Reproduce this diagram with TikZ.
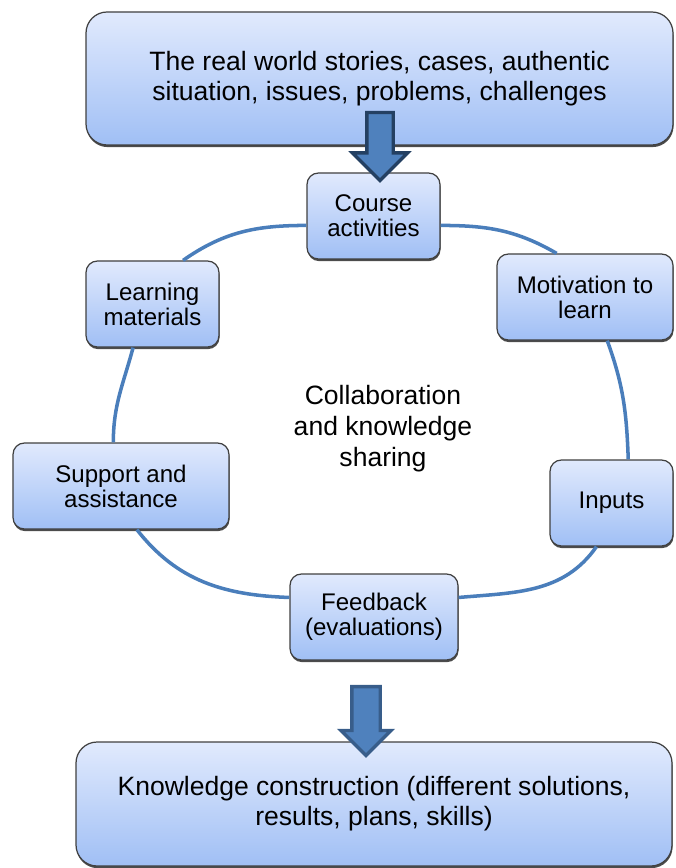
\documentclass[tikz,border=0pt]{standalone}
\usepackage{fontspec}
\setmainfont{Liberation Sans}
\usetikzlibrary{shapes.arrows,shadows}
\definecolor{boxtop}{RGB}{225,234,253}
\definecolor{boxbot}{RGB}{160,191,245}
\definecolor{ringblue}{RGB}{74,126,187}
\definecolor{arrfill}{RGB}{79,129,189}
\definecolor{arrline}{RGB}{36,64,98}
\definecolor{arrlineb}{RGB}{56,93,138}

\begin{document}
\begin{tikzpicture}[box/.style={draw=black!75, line width=0.7pt, rounded corners=6.5pt, top color=boxtop, bottom color=boxbot, align=center, inner sep=2pt, minimum height=1.72cm, drop shadow={shadow xshift=0.3pt, shadow yshift=-1.2pt, opacity=0.7, fill=black}, font=\fontsize{13.7}{14.2}\selectfont},
bigbox/.style={box, rounded corners=12pt, font=\fontsize{15.1}{17.1}\selectfont},
ring/.style={draw=ringblue, line width=2pt},
blk/.style={single arrow, rotate=-90, fill=arrfill, line width=1.9pt, inner xsep=0pt, single arrow head indent=0pt}]
\useasboundingbox (0,0) rectangle (13.5,-17.36);

\node[bigbox, minimum width=11.74cm, minimum height=2.66cm] (top) at (7.59,-1.57) {The real world stories, cases, authentic\\situation, issues, problems, challenges};
\node[box, minimum width=2.66cm] (course) at (7.47,-4.32) {Course\\activities};
\node[box, minimum width=2.66cm] (learn) at (3.05,-6.08) {Learning\\materials};
\node[box, minimum width=3.52cm] (motiv) at (11.70,-5.94) {Motivation to\\learn};
\node[box, minimum width=4.32cm] (supp) at (2.42,-9.72) {Support and\\assistance};
\node[box, minimum width=2.46cm] (inputs) at (12.23,-10.06) {Inputs};
\node[box, minimum width=3.36cm] (feed) at (7.48,-12.34) {Feedback\\(evaluations)};
\node[align=center, font=\fontsize{15.1}{17.6}\selectfont] (collab) at (7.66,-8.58) {Collaboration\\and knowledge\\sharing};
\node[bigbox, minimum width=11.92cm, minimum height=2.48cm] (bottom) at (7.48,-16.08) {Knowledge construction (different solutions,\\results, plans, skills)};

% the cycle
\draw[ring] (course.-8) to[out=0,in=150] (motiv.123);
\draw[ring] (motiv.-63) to[out=-70,in=92] (inputs.69);
\draw[ring] (inputs.-109) to[out=-125,in=5] (feed.13);
\draw[ring] (feed.167) to[out=178,in=-52] (supp.-70);
\draw[ring] (supp.100) to[out=90,in=-105] (learn.246);
\draw[ring] (learn.55) to[out=35,in=180] (course.188);

% block arrows
\node[blk, draw=arrline, minimum height=1.36cm, minimum width=1.1cm, inner ysep=0.23cm, single arrow head extend=0.29cm] (arrA) at (7.60,-2.80) {};
\node[blk, draw=arrlineb, minimum height=1.38cm, minimum width=1.0cm, inner ysep=0.25cm, single arrow head extend=0.22cm] (arrB) at (7.32,-14.28) {};
\end{tikzpicture}
\end{document}
